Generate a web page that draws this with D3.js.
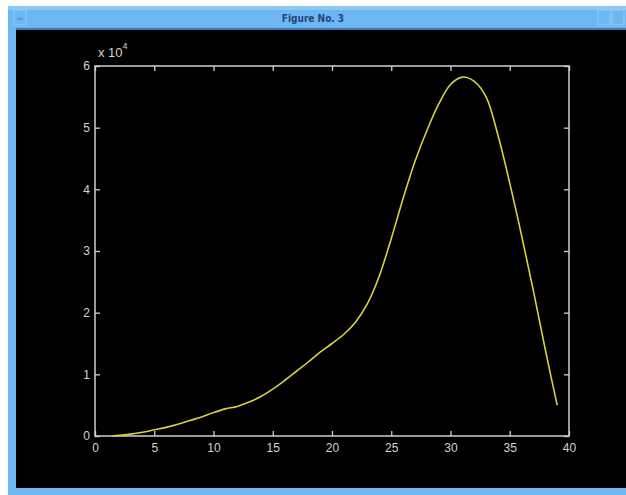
<!DOCTYPE html>
<html>
<head>
<meta charset="utf-8">
<script src="https://cdn.jsdelivr.net/npm/d3@7"></script>
<style>
  html, body { margin: 0; padding: 0; background: #ffffff; overflow: hidden; }
  svg { display: block; }
  .tick text { font-family: "Liberation Sans Narrow", "Liberation Sans", "DejaVu Sans", sans-serif; font-size: 12px; fill: #d4d4d4; }
</style>
</head>
<body>
<svg id="fig" width="626" height="495"></svg>
<script>
// Time steps and the measured quantity at each step
const xValues = [1.5, 2, 3, 4, 5, 6, 7, 8, 9, 10, 11, 12, 13, 14, 15, 16, 17, 18, 19, 20,
                 21, 22, 23, 24, 25, 26, 27, 28, 29, 30, 31, 32, 33, 34, 35, 36, 37, 38, 39];
const yValues = [0, 100, 300, 600, 1000, 1400, 1900, 2500, 3100, 3800, 4400, 4800, 5500, 6400, 7600,
                 9000, 10500, 12000, 13600, 15000, 16500, 18500, 21500, 26000, 32000, 38500, 44500,
                 49500, 53800, 57000, 58200, 57500, 55000, 48800, 41000, 32500, 23500, 14000, 5000];

// Axis tick values and their labels (y labels are in units of 10^4)
const xTicks = [0, 5, 10, 15, 20, 25, 30, 35, 40];
const yTicks = [0, 10000, 20000, 30000, 40000, 50000, 60000];
const yTickLabels = ["0", "1", "2", "3", "4", "5", "6"];
const windowTitle = "Figure No. 3";

const svg = d3.select("#fig");

// Window frame: title bar and borders
svg.append("rect").attr("x", 8).attr("y", 6).attr("width", 700).attr("height", 489).attr("fill", "#6cb6f2");
svg.append("rect").attr("x", 8).attr("y", 6).attr("width", 700).attr("height", 4).attr("fill", "#8cc8f6");
svg.append("rect").attr("x", 16).attr("y", 28).attr("width", 700).attr("height", 2).attr("fill", "#3a78b8");
svg.append("rect").attr("x", 16).attr("y", 30).attr("width", 700).attr("height", 458).attr("fill", "#000000");
// title bar buttons
svg.append("rect").attr("x", 14).attr("y", 10).attr("width", 12).attr("height", 15).attr("fill", "none").attr("stroke", "#94ccf6");
svg.append("line").attr("x1", 17).attr("x2", 23).attr("y1", 19).attr("y2", 19).attr("stroke", "#4a84c0");
svg.append("rect").attr("x", 598).attr("y", 10).attr("width", 12).attr("height", 15).attr("fill", "none").attr("stroke", "#94ccf6");
svg.append("rect").attr("x", 612).attr("y", 10).attr("width", 12).attr("height", 15).attr("fill", "none").attr("stroke", "#94ccf6");
svg.append("text").attr("x", 313).attr("y", 22).attr("text-anchor", "middle")
  .attr("font-family", "DejaVu Sans Condensed, DejaVu Sans, sans-serif").attr("font-size", 10).attr("font-weight", "bold")
  .attr("fill", "#23467a").text(windowTitle);

// Plot area
const x = d3.scaleLinear().domain([0, 40]).range([95, 569]);
const y = d3.scaleLinear().domain([0, 60000]).range([436, 66]);
const axisColor = "#d0d0d0";

function styleAxis(g) {
  g.select(".domain").remove();
  g.selectAll(".tick line").attr("stroke", axisColor).attr("stroke-width", 1.3);
}

svg.append("g").attr("transform", `translate(0,${y(0)})`)
  .call(d3.axisBottom(x).tickValues(xTicks).tickSizeInner(-5).tickSizeOuter(0).tickPadding(7))
  .call(styleAxis);
svg.append("g").attr("transform", `translate(0,${y(60000)})`)
  .call(d3.axisTop(x).tickValues(xTicks).tickSizeInner(-5).tickSizeOuter(0).tickFormat(""))
  .call(styleAxis);
svg.append("g").attr("transform", `translate(${x(0)},0)`)
  .call(d3.axisLeft(y).tickValues(yTicks).tickSizeInner(-5).tickSizeOuter(0).tickPadding(5)
    .tickFormat((d, i) => yTickLabels[i]))
  .call(styleAxis);
svg.append("g").attr("transform", `translate(${x(40)},0)`)
  .call(d3.axisRight(y).tickValues(yTicks).tickSizeInner(-5).tickSizeOuter(0).tickFormat(""))
  .call(styleAxis);

// Axes box
svg.append("rect")
  .attr("x", x(0)).attr("y", y(60000))
  .attr("width", x(40) - x(0)).attr("height", y(0) - y(60000))
  .attr("fill", "none").attr("stroke", axisColor).attr("stroke-width", 1.5);

// Exponent label above the y axis
const expo = svg.append("text").attr("x", x(0) + 3).attr("y", 57)
  .attr("font-family", "Liberation Sans Narrow, Liberation Sans, DejaVu Sans, sans-serif").attr("font-size", 13).attr("fill", "#d4d4d4");
expo.append("tspan").text("x 10");
expo.append("tspan").attr("dy", -8).attr("font-size", 9).text("4");

// Data curve
const pts = xValues.map((v, i) => [v, yValues[i]]);
const line = d3.line().x(d => x(d[0])).y(d => y(d[1])).curve(d3.curveCatmullRom);
svg.append("path").datum(pts).attr("d", line)
  .attr("fill", "none").attr("stroke", "#d6d33e").attr("stroke-width", 1.6);
</script>
</body>
</html>
